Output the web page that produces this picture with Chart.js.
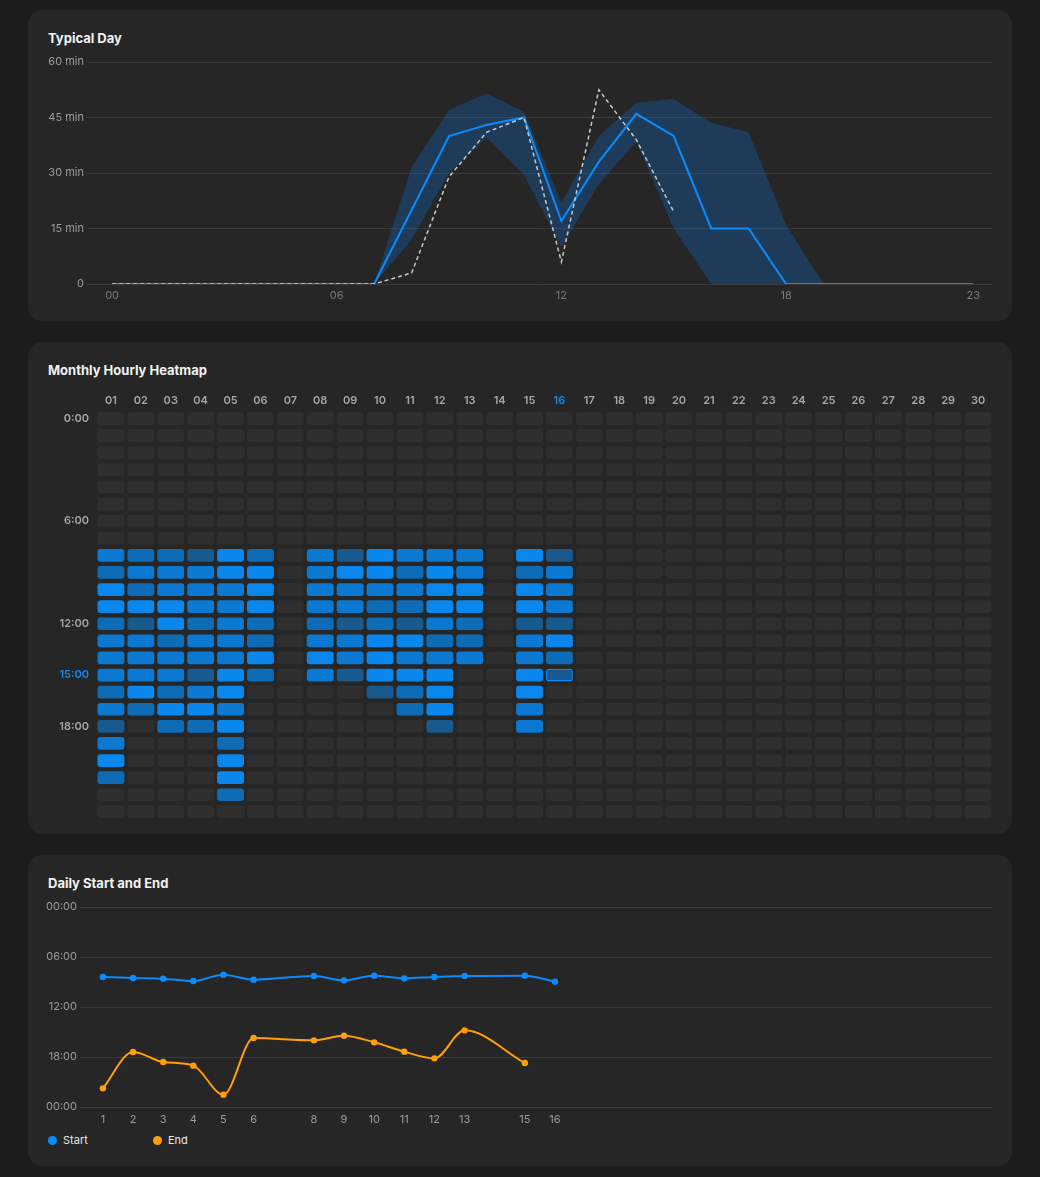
<!DOCTYPE html>
<html>
<head>
<meta charset="utf-8">
<script src="https://cdn.jsdelivr.net/npm/chart.js@4.4.1/dist/chart.umd.min.js"></script>
<style>
  html, body { margin: 0; padding: 0; }
  body { width: 1040px; height: 1177px; background: #1c1c1c; position: relative; overflow: hidden;
         font-family: Inter, "Noto Sans", sans-serif; }
  .card { position: absolute; left: 28px; width: 984px; background: #262626; border-radius: 14px; }
  .title { position: absolute; left: 48px; color: #f2f2f2; font-size: 13px; font-weight: 700; line-height: 16px; }
  canvas { position: absolute; left: 28px; }
  .legend { position: absolute; top: 1133px; font-size: 11px; color: #e6e6e6; line-height: 14px; }
  .legend i { display: inline-block; width: 9px; height: 9px; border-radius: 50%; margin-right: 6px; vertical-align: -1px; }
</style>
</head>
<body>
<div class="card" style="top:10px;height:311px"></div>
<div class="card" style="top:342px;height:492px"></div>
<div class="card" style="top:855px;height:311px"></div>

<div class="title" style="top:30px">Typical Day</div>
<div class="title" style="top:362px">Monthly Hourly Heatmap</div>
<div class="title" style="top:875px">Daily Start and End</div>

<canvas id="dayChart" width="984" height="265" style="top:50px"></canvas>
<canvas id="heatChart" width="984" height="448" style="top:386px"></canvas>
<canvas id="spanChart" width="984" height="235" style="top:895px"></canvas>

<div class="legend" style="left:48px"><i style="background:#0a8cff"></i>Start</div>
<div class="legend" style="left:153px"><i style="background:#ff9f0a"></i>End</div>

<script>
// typical day (minutes active per hour)
const hours = [0, 1, 2, 3, 4, 5, 6, 7, 8, 9, 10, 11, 12, 13, 14, 15, 16, 17, 18, 19, 20, 21, 22, 23];
const typicalMinutes = [0, 0, 0, 0, 0, 0, 0, 0, 20, 40, 43, 45, 17, 33, 46, 40, 15, 15, 0, 0, 0, 0, 0, 0];
const todayMinutes = [0, 0, 0, 0, 0, 0, 0, 0, 3, 29, 41, 45, 6, 52.5, 39, 19.5, null, null, null, null, null, null, null, null];
const bandHigh = [0, 0, 0, 0, 0, 0, 0, 0, 31.5, 47, 51.5, 46.5, 22, 40, 49, 50, 43.5, 41, 16, 0, 0, 0, 0, 0];
const bandLow = [0, 0, 0, 0, 0, 0, 0, 0, 12, 30, 39.5, 29.5, 10, 27, 38.5, 15, 0, 0, 0, 0, 0, 0, 0, 0];
const dayTicks = [0, 6, 12, 18, 23];

// heatmap: intensity level (0-4) per day, hours 0..23
const monthDays = ["01", "02", "03", "04", "05", "06", "07", "08", "09", "10", "11", "12", "13", "14", "15",
                   "16", "17", "18", "19", "20", "21", "22", "23", "24", "25", "26", "27", "28", "29", "30"];
const heatLevel = [
    [0,0,0,0,0,0,0,0, 3,2,4,4,2,3,3,3,2,3,1,3,4,2,0,0], // 01
    [0,0,0,0,0,0,0,0, 2,3,2,4,1,3,3,3,4,2,0,0,0,0,0,0], // 02
    [0,0,0,0,0,0,0,0, 2,3,3,4,4,2,3,3,2,4,2,0,0,0,0,0], // 03
    [0,0,0,0,0,0,0,0, 1,3,3,3,2,3,3,1,3,4,2,0,0,0,0,0], // 04
    [0,0,0,0,0,0,0,0, 4,4,3,3,3,3,3,4,4,3,4,2,4,4,2,0], // 05
    [0,0,0,0,0,0,0,0, 2,4,4,4,2,2,4,2,0,0,0,0,0,0,0,0], // 06
    [0,0,0,0,0,0,0,0, 0,0,0,0,0,0,0,0,0,0,0,0,0,0,0,0], // 07
    [0,0,0,0,0,0,0,0, 3,3,3,3,2,3,4,3,0,0,0,0,0,0,0,0], // 08
    [0,0,0,0,0,0,0,0, 1,4,3,3,1,3,3,1,0,0,0,0,0,0,0,0], // 09
    [0,0,0,0,0,0,0,0, 4,4,3,2,2,4,4,4,1,0,0,0,0,0,0,0], // 10
    [0,0,0,0,0,0,0,0, 3,2,3,2,1,4,3,4,2,2,0,0,0,0,0,0], // 11
    [0,0,0,0,0,0,0,0, 3,4,4,4,3,2,3,4,4,4,1,0,0,0,0,0], // 12
    [0,0,0,0,0,0,0,0, 3,3,4,4,2,2,3,0,0,0,0,0,0,0,0,0], // 13
    [0,0,0,0,0,0,0,0, 0,0,0,0,0,0,0,0,0,0,0,0,0,0,0,0], // 14
    [0,0,0,0,0,0,0,0, 4,2,4,4,1,3,3,4,4,3,3,0,0,0,0,0], // 15
    [0,0,0,0,0,0,0,0, 1,3,3,3,1,4,2,1,0,0,0,0,0,0,0,0], // 16
    [0,0,0,0,0,0,0,0, 0,0,0,0,0,0,0,0,0,0,0,0,0,0,0,0], // 17
    [0,0,0,0,0,0,0,0, 0,0,0,0,0,0,0,0,0,0,0,0,0,0,0,0], // 18
    [0,0,0,0,0,0,0,0, 0,0,0,0,0,0,0,0,0,0,0,0,0,0,0,0], // 19
    [0,0,0,0,0,0,0,0, 0,0,0,0,0,0,0,0,0,0,0,0,0,0,0,0], // 20
    [0,0,0,0,0,0,0,0, 0,0,0,0,0,0,0,0,0,0,0,0,0,0,0,0], // 21
    [0,0,0,0,0,0,0,0, 0,0,0,0,0,0,0,0,0,0,0,0,0,0,0,0], // 22
    [0,0,0,0,0,0,0,0, 0,0,0,0,0,0,0,0,0,0,0,0,0,0,0,0], // 23
    [0,0,0,0,0,0,0,0, 0,0,0,0,0,0,0,0,0,0,0,0,0,0,0,0], // 24
    [0,0,0,0,0,0,0,0, 0,0,0,0,0,0,0,0,0,0,0,0,0,0,0,0], // 25
    [0,0,0,0,0,0,0,0, 0,0,0,0,0,0,0,0,0,0,0,0,0,0,0,0], // 26
    [0,0,0,0,0,0,0,0, 0,0,0,0,0,0,0,0,0,0,0,0,0,0,0,0], // 27
    [0,0,0,0,0,0,0,0, 0,0,0,0,0,0,0,0,0,0,0,0,0,0,0,0], // 28
    [0,0,0,0,0,0,0,0, 0,0,0,0,0,0,0,0,0,0,0,0,0,0,0,0], // 29
    [0,0,0,0,0,0,0,0, 0,0,0,0,0,0,0,0,0,0,0,0,0,0,0,0]  // 30
];
const heatRowTicks = [0, 6, 12, 15, 18];
const selectedDay = "16";
const selectedHour = 15;

// daily start / end (hour of day)
const spanDays = [1, 2, 3, 4, 5, 6, 8, 9, 10, 11, 12, 13, 15, 16];
const startHour = [8.4, 8.52, 8.6, 8.88, 8.12, 8.72, 8.28, 8.8, 8.24, 8.56, 8.4, 8.28, 8.24, 8.96];
const endHour = [21.76, 17.4, 18.6, 19.04, 22.52, 15.72, 16.0, 15.44, 16.24, 17.36, 18.16, 14.8, 18.72, null];

const BLUE = "#0a8cff";
const ORANGE = "#ff9f0a";
const GRID = "#3a3a3a";
const levelColors = ["#2f2f2f", "#185a8e", "#0e6cb6", "#0b79d2", "#0a87ec"];

Chart.defaults.font.family = 'Inter, "Noto Sans", sans-serif';
Chart.defaults.font.size = 11;
Chart.defaults.animation = false;
Chart.defaults.plugins.legend.display = false;
Chart.defaults.plugins.tooltip.enabled = false;

const pts = (xs, ys) => xs.map((x, i) => ({ x: x, y: ys[i] }));
const pad2 = (v) => String(v).padStart(2, "0");

// --- Typical Day ---
new Chart(document.getElementById("dayChart"), {
    type: "line",
    data: {
        datasets: [
            {
                label: "Today",
                data: pts(hours, todayMinutes),
                borderColor: "#c8c8c8",
                borderWidth: 1.5,
                borderDash: [4, 3],
                pointRadius: 0,
                fill: false,
                order: 0,
            },
            {
                label: "Typical",
                data: pts(hours, typicalMinutes),
                borderColor: BLUE,
                borderWidth: 2,
                pointRadius: 0,
                fill: false,
                order: 1,
            },
            {
                label: "High",
                data: pts(hours, bandHigh),
                borderWidth: 0,
                pointRadius: 0,
                backgroundColor: "rgba(10,132,255,0.24)",
                fill: "+1",
                order: 2,
            },
            {
                label: "Low",
                data: pts(hours, bandLow),
                borderWidth: 0,
                pointRadius: 0,
                fill: false,
                order: 3,
            },
        ],
    },
    options: {
        responsive: false,
        layout: { padding: { top: 12, right: 20, bottom: 6, left: 0 } },
        scales: {
            x: {
                type: "linear",
                min: -0.67,
                max: 23.5,
                grid: { display: false, drawTicks: false },
                border: { display: false },
                afterBuildTicks: (scale) => {
                    scale.ticks = dayTicks.map((v) => ({ value: v }));
                },
                afterFit: (scale) => { scale.height = 25; },
                ticks: {
                    color: "#7a7a7a",
                    padding: 5,
                    maxRotation: 0,
                    callback: (v) => pad2(v),
                },
            },
            y: {
                min: 0,
                max: 60,
                grid: { color: GRID, drawTicks: false },
                border: { display: false },
                afterFit: (scale) => { scale.width = 59; },
                ticks: {
                    stepSize: 15,
                    color: "#9c9c9c",
                    padding: 3,
                    callback: (v) => (v === 0 ? "0" : v + " min"),
                },
            },
        },
    },
});

// --- Monthly Hourly Heatmap ---
const heatDatasets = hours.map((h) => ({
    label: h + ":00",
    data: monthDays.map(() => [h + 0.13, h + 0.87]),
    grouped: false,
    backgroundColor: (ctx) => levelColors[heatLevel[ctx.dataIndex][h]],
    borderColor: BLUE,
    borderWidth: (ctx) => (monthDays[ctx.dataIndex] === selectedDay && h === selectedHour ? 1.5 : 0),
    borderRadius: 3,
    borderSkipped: false,
    barPercentage: 0.9,
    categoryPercentage: 1,
}));

new Chart(document.getElementById("heatChart"), {
    type: "bar",
    data: { labels: monthDays, datasets: heatDatasets },
    options: {
        responsive: false,
        layout: { padding: { top: 0, right: 19, bottom: 0, left: 0 } },
        scales: {
            x: {
                position: "top",
                grid: { display: false, drawTicks: false },
                border: { display: false },
                afterFit: (scale) => { scale.height = 24; },
                ticks: {
                    padding: 3,
                    maxRotation: 0,
                    autoSkip: false,
                    font: { weight: "600" },
                    color: (ctx) => (monthDays[ctx.index] === selectedDay ? BLUE : "#a6a6a6"),
                },
            },
            y: {
                type: "linear",
                min: 0,
                max: 24,
                reverse: true,
                grid: { display: false, drawTicks: false },
                border: { display: false },
                afterFit: (scale) => { scale.width = 68; },
                afterBuildTicks: (scale) => {
                    scale.ticks = heatRowTicks.map((h) => ({ value: h + 0.5 }));
                },
                ticks: {
                    padding: 7,
                    font: { weight: "600" },
                    color: (ctx) => (ctx.tick.value - 0.5 === selectedHour ? BLUE : "#a6a6a6"),
                    callback: (v) => (v - 0.5) + ":00",
                },
            },
        },
    },
});

// --- Daily Start and End ---
new Chart(document.getElementById("spanChart"), {
    type: "line",
    data: {
        datasets: [
            {
                label: "Start",
                data: pts(spanDays, startHour),
                borderColor: BLUE,
                backgroundColor: BLUE,
                borderWidth: 2,
                pointRadius: 3.2,
                pointBorderWidth: 0,
                cubicInterpolationMode: "monotone",
            },
            {
                label: "End",
                data: pts(spanDays, endHour),
                borderColor: ORANGE,
                backgroundColor: ORANGE,
                borderWidth: 2,
                pointRadius: 3.2,
                pointBorderWidth: 0,
                cubicInterpolationMode: "monotone",
            },
        ],
    },
    options: {
        responsive: false,
        layout: { padding: { top: 12, right: 20, bottom: 0, left: 0 } },
        scales: {
            x: {
                type: "linear",
                min: 0.24,
                max: 30.5,
                grid: { display: false, drawTicks: false },
                border: { display: false },
                afterBuildTicks: (scale) => {
                    scale.ticks = spanDays.map((d) => ({ value: d }));
                },
                afterFit: (scale) => { scale.height = 23; },
                ticks: { color: "#9c9c9c", padding: 6, maxRotation: 0 },
            },
            y: {
                min: 0,
                max: 24,
                reverse: true,
                grid: { color: GRID, drawTicks: false },
                border: { display: false },
                afterFit: (scale) => { scale.width = 52; },
                ticks: {
                    stepSize: 6,
                    color: "#9c9c9c",
                    padding: 3,
                    callback: (v) => pad2(v % 24) + ":00",
                },
            },
        },
    },
});
</script>
</body>
</html>
